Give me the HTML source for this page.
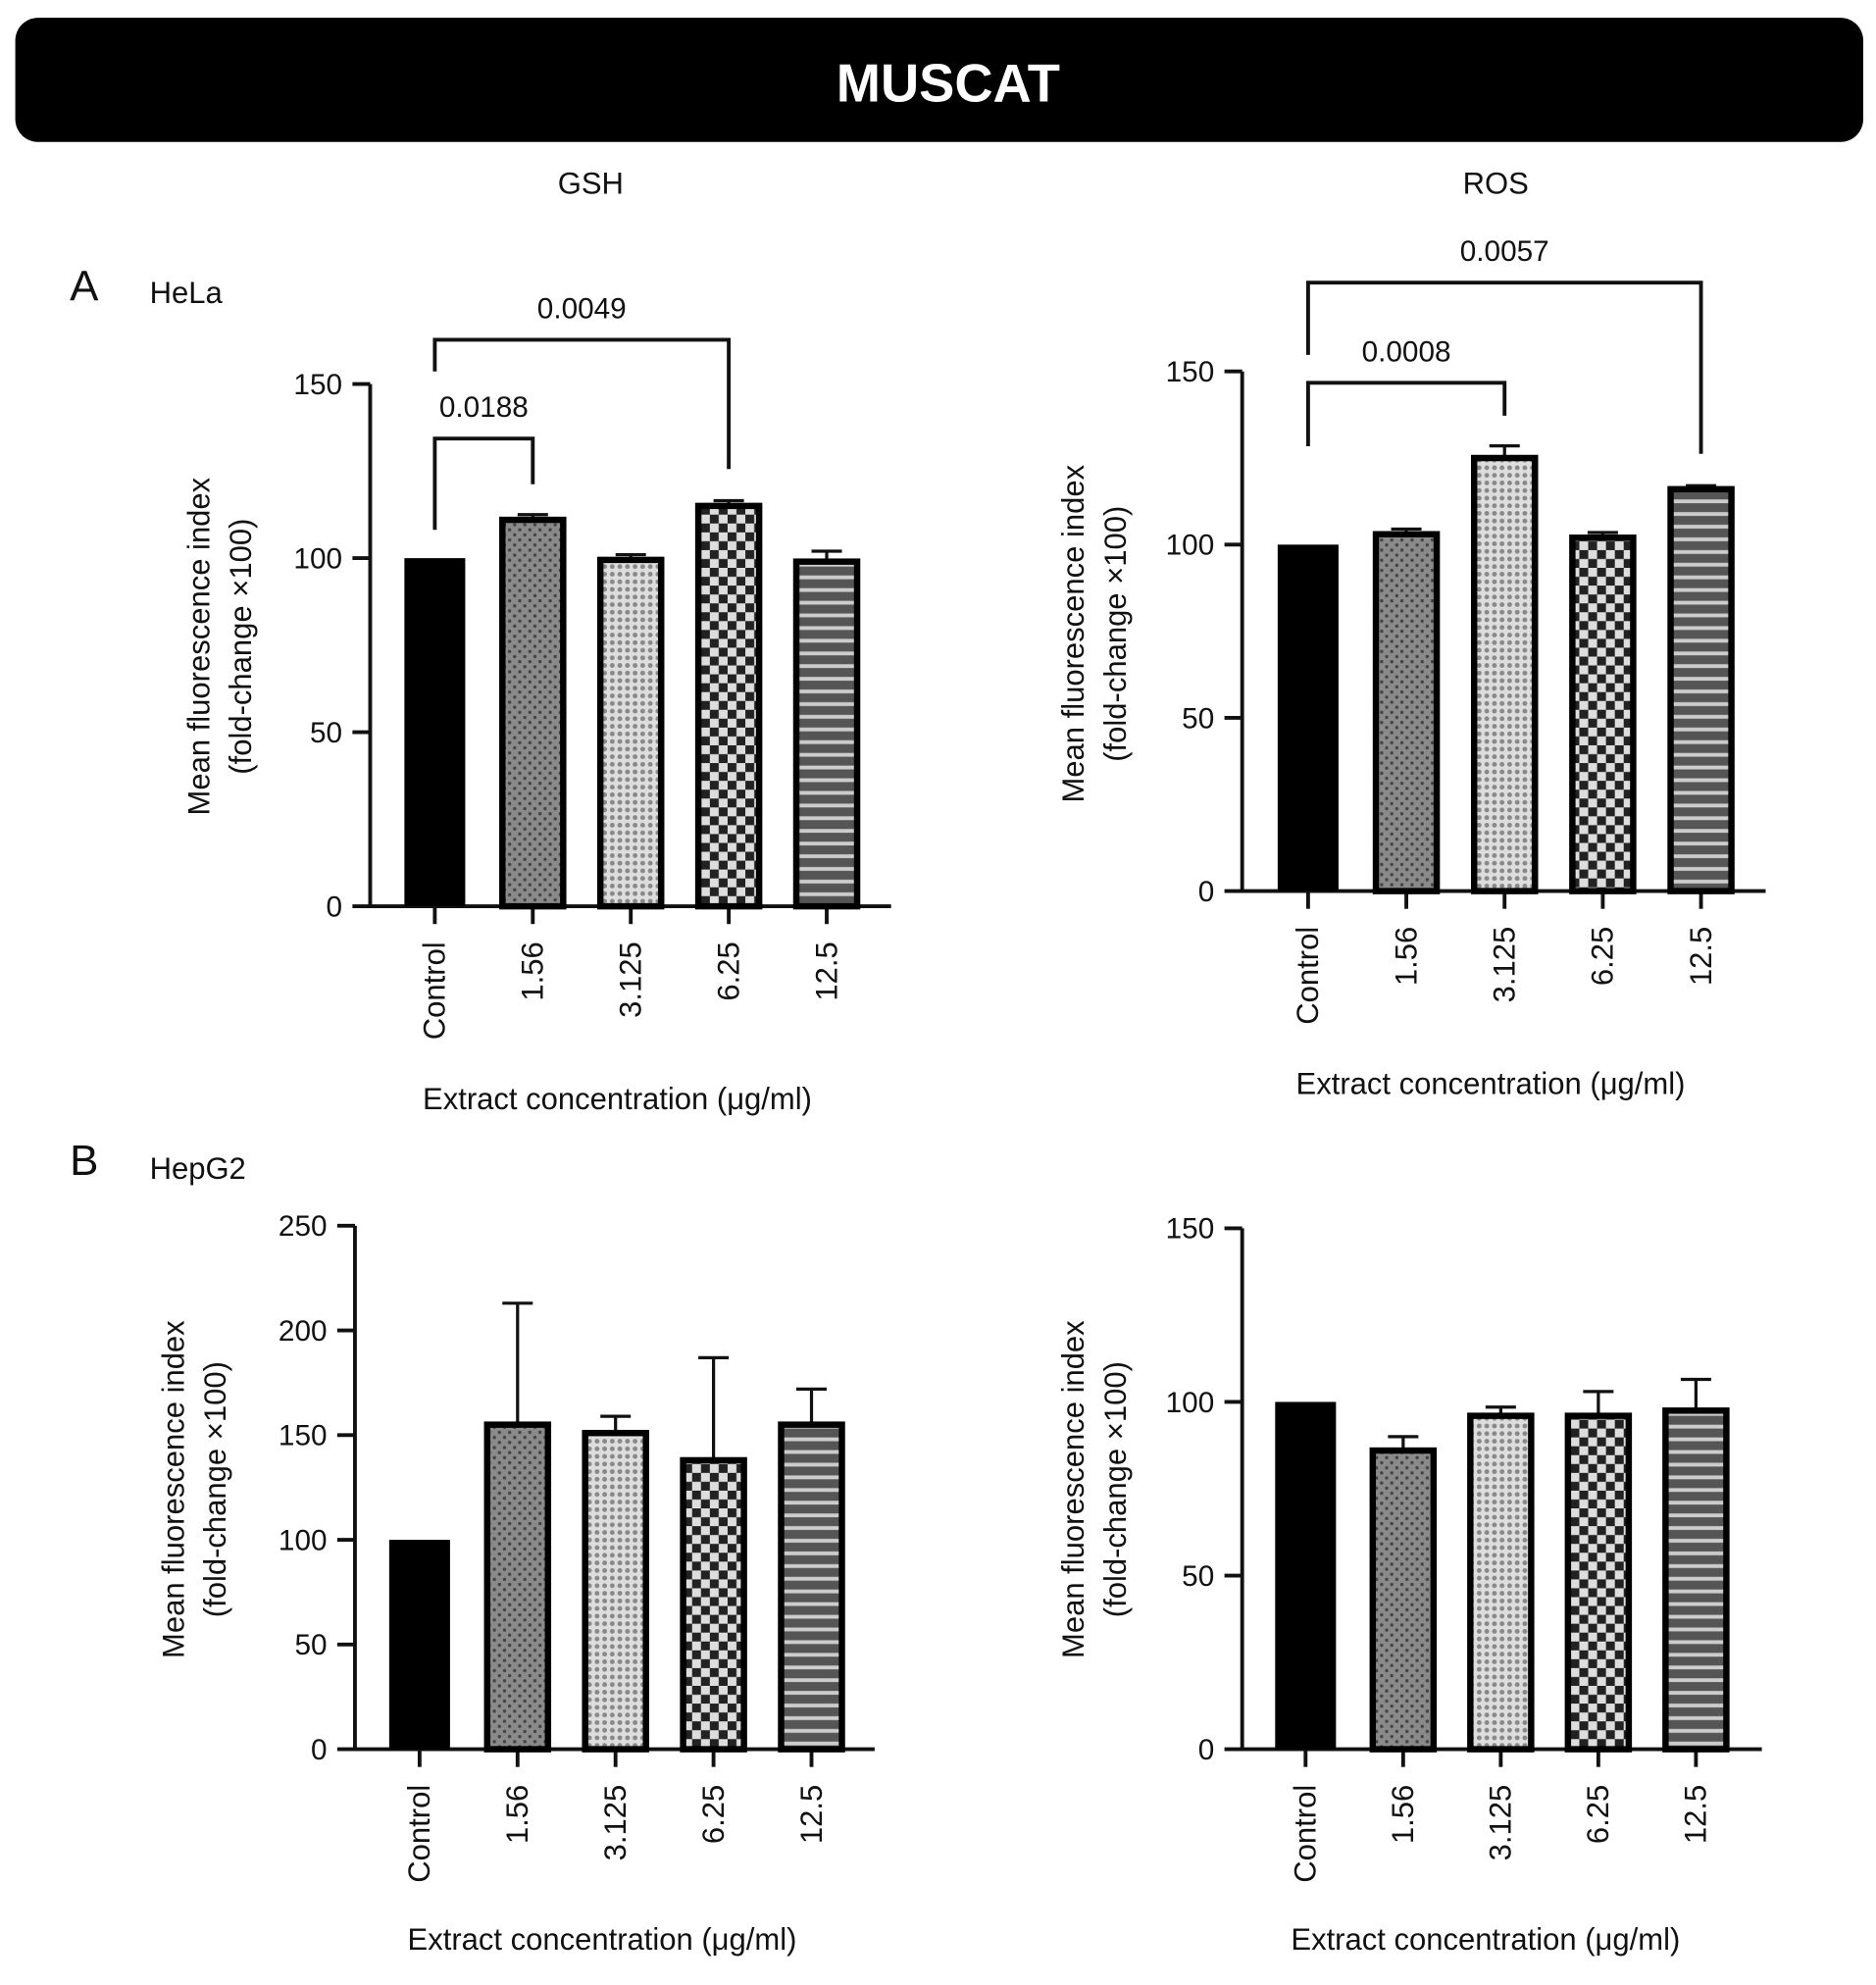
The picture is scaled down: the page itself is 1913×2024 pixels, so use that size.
<!DOCTYPE html>
<html><head><meta charset="utf-8"><style>
html,body{margin:0;padding:0;background:#fff}
svg{display:block}
text{font-family:"Liberation Sans",sans-serif;fill:#111}
</style></head><body>
<svg id="fig" width="1913" height="2024" viewBox="0 0 1480 1566" xmlns="http://www.w3.org/2000/svg">
<defs>
<pattern id="p1" width="8" height="8" patternUnits="userSpaceOnUse"><rect width="8" height="8" fill="#8a8a8a"/><circle cx="2" cy="2" r="1.3" fill="#444"/><circle cx="6" cy="6" r="1.3" fill="#444"/></pattern>
<pattern id="p2" width="6" height="6" patternUnits="userSpaceOnUse"><rect width="6" height="6" fill="#ddd"/><circle cx="3" cy="3" r="1.9" fill="#888"/></pattern>
<pattern id="p3" width="14" height="14" patternUnits="userSpaceOnUse"><rect width="14" height="14" fill="#ddd"/><rect width="7" height="7" fill="#222"/><rect x="7" y="7" width="7" height="7" fill="#222"/></pattern>
<pattern id="p4" width="10" height="10" patternUnits="userSpaceOnUse"><rect width="10" height="10" fill="#555"/><rect y="4" width="10" height="3" fill="#ccc"/></pattern>
</defs>
<rect x="12" y="14" width="1458" height="98" rx="18" fill="#000"/>
<text x="748" y="80" text-anchor="middle" font-size="42" font-weight="bold" style="fill:#fff">MUSCAT</text>
<text x="466" y="153" text-anchor="middle" font-size="24">GSH</text>
<text x="1180" y="153" text-anchor="middle" font-size="24">ROS</text>
<text x="55" y="237" font-size="34">A</text>
<text x="118" y="239" font-size="24">HeLa</text>
<text x="55" y="927" font-size="34">B</text>
<text x="118" y="930" font-size="24">HepG2</text>
</svg>
<script>
const categories = ["Control","1.56","3.125","6.25","12.5"];
const aGshValues = [100,111,99.5,115,99];
const aGshErr = [0,1.5,1.5,1.5,3];
const aRosValues = [100,103,125,102,116];
const aRosErr = [0,1.5,3.5,1.5,1];
const bGshValues = [100,155,151,138,155];
const bGshErr = [0,58,8,49,17];
const bRosValues = [100,86,96,96,97.5];
const bRosErr = [0,4,2.5,7,9];
const ticks150 = [0,50,100,150];
const ticks250 = [0,50,100,150,200,250];
const fills = ["#000","url(#p1)","url(#p2)","url(#p3)","url(#p4)"];
const NS="http://www.w3.org/2000/svg";
const svg=document.getElementById('fig');
function mk(tag,attrs,parent){const e=document.createElementNS(NS,tag);for(const k in attrs)e.setAttribute(k,attrs[k]);(parent||svg).appendChild(e);return e;}
function panel(id,cfg,vals,errs,ticks,brackets){
  const g=mk('g',{});
  
  
  const max=ticks[ticks.length-1];
  const y=v=>cfg.y0-(v/max)*(cfg.y0-cfg.yTop);
  const x=i=>cfg.x1+i*cfg.step;
  const ax=mk('path',{d:`M${cfg.ax} ${cfg.yTop} V${cfg.y0} H${cfg.xEnd}`,stroke:'#111','stroke-width':3,fill:'none'},g);
  
  
  ticks.forEach(t=>{
    mk('line',{x1:cfg.ax-14,x2:cfg.ax,y1:y(t),y2:y(t),stroke:'#111','stroke-width':3},g);
    const tl=mk('text',{x:cfg.ax-22,y:y(t)+8,'text-anchor':'end','font-size':23},g);
    tl.textContent=t;
    
    
  });
  categories.forEach((c,i)=>{
    const cx=x(i),w=48;
    mk('line',{x1:cx,x2:cx,y1:cfg.y0,y2:cfg.y0+14,stroke:'#111','stroke-width':3},g);
    if(errs[i]>0){
      const e=mk('path',{d:`M${cx} ${y(vals[i])} V${y(vals[i]+errs[i])} M${cx-12} ${y(vals[i]+errs[i])} H${cx+12}`,stroke:'#111','stroke-width':2.5,fill:'none'},g);
      
      
    }
    const b=mk('rect',{x:cx-w/2,y:y(vals[i]),width:w,height:cfg.y0-y(vals[i]),fill:fills[i],stroke:'#000','stroke-width':i?5:0},g);
    
    
    const t=mk('text',{x:0,y:0,'text-anchor':'end','font-size':24,transform:`translate(${cx+8},${cfg.y0+28}) rotate(-90)`},g);
    t.textContent=c;
    
    
  });
  const t1=mk('text',{'text-anchor':'middle','font-size':24,transform:`translate(${cfg.tx},${cfg.tyc}) rotate(-90)`},g);
  t1.textContent='Mean fluorescence index';
  
  
  const t2=mk('text',{'text-anchor':'middle','font-size':24,transform:`translate(${cfg.tx+33},${cfg.tyc}) rotate(-90)`},g);
  t2.textContent='(fold-change ×100)';
  
  
  const xt=mk('text',{x:cfg.xtx,y:cfg.xty,'text-anchor':'middle','font-size':24},g);
  xt.textContent='Extract concentration (μg/ml)';
  
  
  (brackets||[]).forEach(br=>{
    const p=mk('path',{d:`M${x(br.a)} ${br.ya} V${br.y} H${x(br.b)} V${br.yb}`,stroke:'#111','stroke-width':3,fill:'none'},g);
    
    
    const l=mk('text',{x:(x(br.a)+x(br.b))/2,y:br.y-17,'text-anchor':'middle','font-size':23},g);
    l.textContent=br.label;
    
    
  });
}
panel('hela-gsh',{ax:292,y0:715,yTop:303,x1:343,step:77.3,xEnd:703,tx:165,tyc:510,xtx:487,xty:875},aGshValues,aGshErr,ticks150,
  [{a:0,b:1,y:346,ya:418,yb:382,label:'0.0188'},{a:0,b:3,y:268,ya:293,yb:370,label:'0.0049'}]);
panel('hela-ros',{ax:980,y0:703,yTop:293,x1:1032,step:77.5,xEnd:1393,tx:855,tyc:500,xtx:1176,xty:863},aRosValues,aRosErr,ticks150,
  [{a:0,b:2,y:302,ya:352,yb:328,label:'0.0008'},{a:0,b:4,y:223,ya:280,yb:358,label:'0.0057'}]);
panel('hepg2-gsh',{ax:280,y0:1380,yTop:967,x1:331,step:77.3,xEnd:690,tx:145,tyc:1175,xtx:475,xty:1538},bGshValues,bGshErr,ticks250);
panel('hepg2-ros',{ax:980,y0:1380,yTop:969,x1:1030,step:77,xEnd:1390,tx:855,tyc:1175,xtx:1172,xty:1538},bRosValues,bRosErr,ticks150);
</script>
</body></html>
